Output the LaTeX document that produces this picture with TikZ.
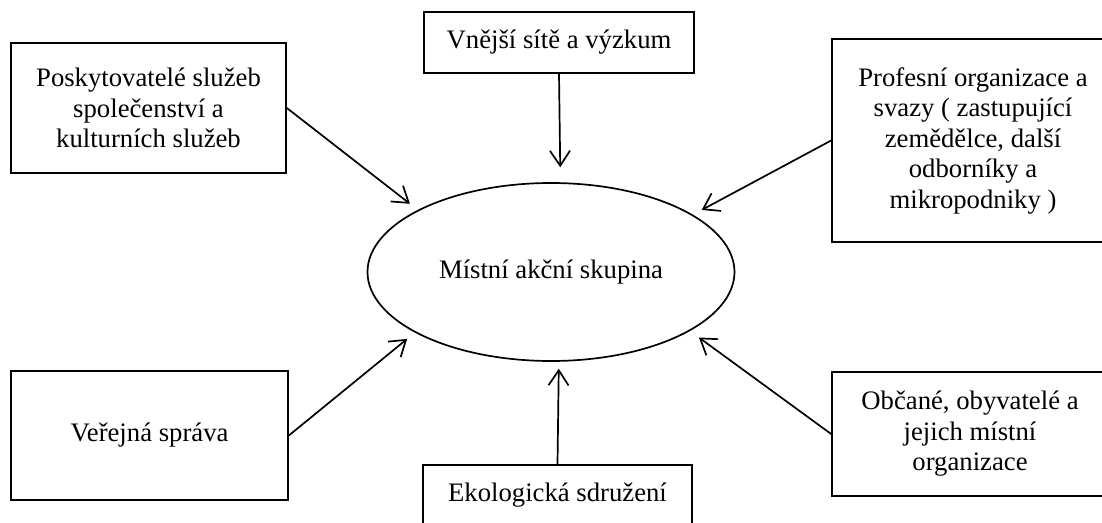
\documentclass[tikz,border=0pt]{standalone}
\usepackage{fontspec}
\setmainfont{Liberation Serif}
\usetikzlibrary{positioning}
\usetikzlibrary{shapes,arrows.meta}
\tikzstyle{block} = [rectangle, draw, line width=1.7pt, align=center, inner sep=0pt]
\tikzstyle{cloud} = [draw, ellipse, line width=1.7pt, inner sep=0pt,
                        minimum width=367pt, minimum height=178pt]
\tikzstyle{line} = [draw, line width=1.7pt, -{Straight Barb[length=15pt, width=20pt]}]

\begin{document}
\begin{tikzpicture}[x=1pt, y=-1pt, every node/.style={font=\fontsize{26.7}{30.5}\selectfont}]
                \useasboundingbox (0,0) rectangle (1102,522);
                \clip (0,0) rectangle (1102,522);
                \node[cloud](mas) at (551,272) {Místní akční skupina};
                \node[block, minimum width=275pt, minimum height=130pt](providers) at (148.5,108) {Poskytovatelé služeb\\ společenství a\\ kulturních služeb};
                \node[block, minimum width=270pt, minimum height=61pt](networks) at (559,42.5) {Vnější sítě a výzkum};
                \node[block, minimum width=282pt, minimum height=203pt](profesni) at (973,140.5) {Profesní organizace a\\ svazy ( zastupující\\ zemědělce, další\\ odborníky a\\ mikropodniky )};
                \node[block, minimum width=277pt, minimum height=129pt](sprava) at (149.5,435.5) {Veřejná správa};
                \node[block, minimum width=269pt, minimum height=61pt](eko) at (557.5,495.5) {Ekologická sdružení};
                \node[block, minimum width=276pt, minimum height=124pt](obcane) at (970,434) {Občané, obyvatelé a\\ jejich místní\\ organizace};
                \path[line, shorten >=10pt] (providers.east) -- (mas.155.9);
                \path[line, shorten >=15pt] (networks.south) -- (mas.84.5);
                \path[line, shorten >=10pt] (profesni.west) -- (mas.22.2);
                \path[line, shorten >=10pt] (sprava.east) -- (mas.204.6);
                \path[line, shorten >=7pt] (eko.north) -- (mas.275.9);
                \path[line, shorten >=11pt] (obcane.west) -- (mas.337.5);
            \end{tikzpicture}
\end{document}
